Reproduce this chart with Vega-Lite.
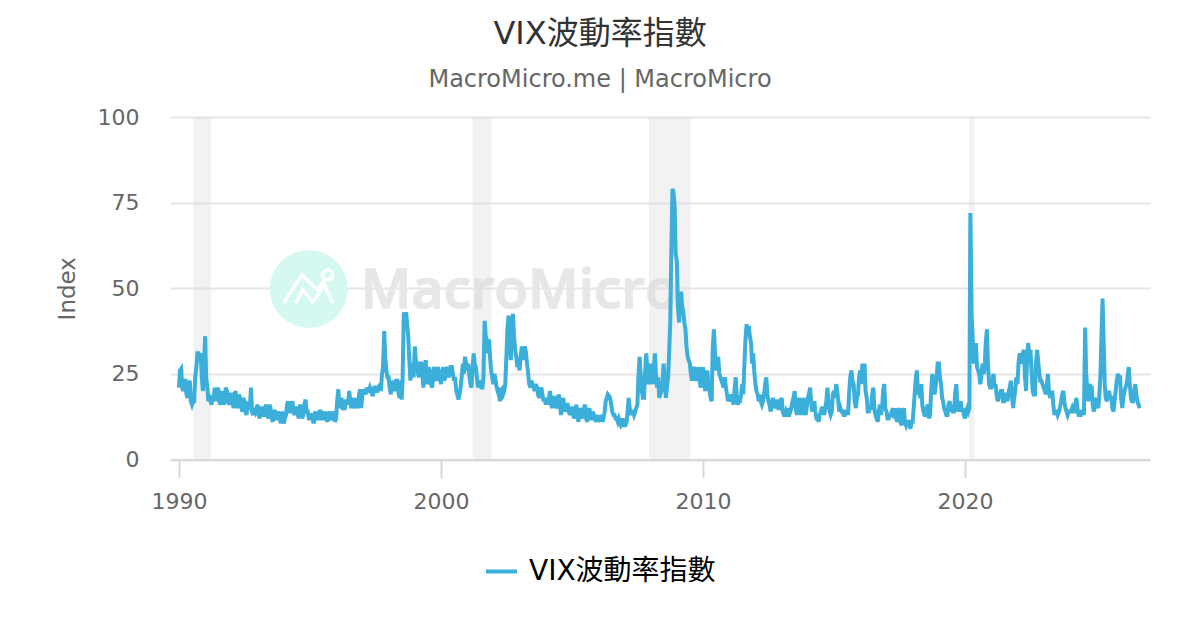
{
  "$schema": "https://vega.github.io/schema/vega-lite/v6.json",
  "width": 980,
  "height": 342.5,
  "autosize": "none",
  "padding": {"left": 170, "top": 117, "right": 50, "bottom": 170},
  "background": "white",
  "title": {
    "text": "VIX波動率指數",
    "subtitle": "MacroMicro.me | MacroMicro",
    "font": "DejaVu Sans, Noto Sans CJK TC",
    "subtitleFont": "DejaVu Sans, Noto Sans CJK TC",
    "fontSize": 32,
    "fontWeight": "normal",
    "color": "#333333",
    "subtitleFontSize": 24,
    "subtitleColor": "#666666",
    "subtitlePadding": 17,
    "anchor": "middle",
    "frame": "group",
    "dx": -60,
    "offset": 13
  },
  "config": {
    "view": {"stroke": null},
    "font": "DejaVu Sans, Noto Sans CJK TC"
  },
  "layer": [
    {
      "data": {"values": [{"name": "logo"}]},
      "mark": {"type": "point", "filled": true, "size": 6084, "color": "#d5f8f1", "opacity": 1},
      "encoding": {
        "x": {"datum": {"year": 1994, "month": 12, "date": 15}, "type": "temporal"},
        "y": {"datum": 49.8, "type": "quantitative"}
      }
    },
    {
      "data": {"values": [{"name": "logo"}]},
      "mark": {
        "type": "point",
        "filled": false,
        "size": 4,
        "stroke": "white",
        "strokeWidth": 3.5,
        "opacity": 1,
        "shape": "M-25 14L-7 -14L9 1L16 -10M24 -14A5 5 0 1 1 14 -14A5 5 0 1 1 24 -14M-13 14L-6 1L4 13L16 -4L24 14"
      },
      "encoding": {
        "x": {"datum": {"year": 1994, "month": 12, "date": 15}, "type": "temporal"},
        "y": {"datum": 49.8, "type": "quantitative"}
      }
    },
    {
      "data": {"values": [{"name": "MacroMicro"}]},
      "mark": {
        "type": "text",
        "align": "left",
        "baseline": "alphabetic",
        "font": "Open Sans",
        "fontWeight": 600,
        "fontSize": 55,
        "color": "#e6e7e7",
        "stroke": "#e6e7e7",
        "strokeWidth": 1.5
      },
      "encoding": {
        "text": {"field": "name"},
        "x": {"datum": {"year": 1996, "month": 12, "date": 10}, "type": "temporal"},
        "y": {"datum": 44.2, "type": "quantitative"}
      }
    },
    {
      "data": {"values": [
        {"start": "1990-07-20", "end": "1991-03-25"},
        {"start": "2001-03-20", "end": "2001-12-01"},
        {"start": "2007-12-10", "end": "2009-07-15"},
        {"start": "2020-02-25", "end": "2020-05-10"}
      ]},
      "mark": {"type": "rect", "color": "#d9d9d9", "opacity": 0.35},
      "encoding": {
        "x": {"field": "start", "type": "temporal"},
        "x2": {"field": "end"}
      }
    },
    {
      "data": {"values": [
        {"d":"1990-01","v":21},{"d":"1990-02","v":26.5},{"d":"1990-03","v":20},{"d":"1990-04","v":23},{"d":"1990-05","v":18},{"d":"1990-06","v":23},{"d":"1990-07","v":16},{"d":"1990-08","v":17},{"d":"1990-09","v":27},{"d":"1990-10","v":31},{"d":"1990-11","v":31},{"d":"1990-12","v":20},
        {"d":"1991-01","v":36},{"d":"1991-02","v":21},{"d":"1991-03","v":19},{"d":"1991-04","v":16},{"d":"1991-05","v":18},{"d":"1991-06","v":17},{"d":"1991-07","v":21},{"d":"1991-08","v":16},{"d":"1991-09","v":18},{"d":"1991-10","v":17},{"d":"1991-11","v":20},{"d":"1991-12","v":16},
        {"d":"1992-01","v":19},{"d":"1992-02","v":15},{"d":"1992-03","v":20},{"d":"1992-04","v":15},{"d":"1992-05","v":18},{"d":"1992-06","v":14},{"d":"1992-07","v":17},{"d":"1992-08","v":13},{"d":"1992-09","v":15},{"d":"1992-10","v":21},{"d":"1992-11","v":13},{"d":"1992-12","v":14},
        {"d":"1993-01","v":16},{"d":"1993-02","v":12},{"d":"1993-03","v":15},{"d":"1993-04","v":13},{"d":"1993-05","v":16},{"d":"1993-06","v":12},{"d":"1993-07","v":15},{"d":"1993-08","v":11},{"d":"1993-09","v":14},{"d":"1993-10","v":12},{"d":"1993-11","v":13},{"d":"1993-12","v":11},
        {"d":"1994-01","v":10.5},{"d":"1994-02","v":13},{"d":"1994-03","v":17},{"d":"1994-04","v":14},{"d":"1994-05","v":17},{"d":"1994-06","v":13},{"d":"1994-07","v":15},{"d":"1994-08","v":12},{"d":"1994-09","v":15},{"d":"1994-10","v":13},{"d":"1994-11","v":17.5},{"d":"1994-12","v":14},
        {"d":"1995-01","v":12},{"d":"1995-02","v":13},{"d":"1995-03","v":11},{"d":"1995-04","v":13},{"d":"1995-05","v":12},{"d":"1995-06","v":14},{"d":"1995-07","v":12},{"d":"1995-08","v":14},{"d":"1995-09","v":11},{"d":"1995-10","v":14},{"d":"1995-11","v":12},{"d":"1995-12","v":14},
        {"d":"1996-01","v":12},{"d":"1996-02","v":20.5},{"d":"1996-03","v":16},{"d":"1996-04","v":15},{"d":"1996-05","v":15},{"d":"1996-06","v":17},{"d":"1996-07","v":20},{"d":"1996-08","v":15},{"d":"1996-09","v":16},{"d":"1996-10","v":18},{"d":"1996-11","v":15},{"d":"1996-12","v":20.5},
        {"d":"1997-01","v":19},{"d":"1997-02","v":20},{"d":"1997-03","v":21},{"d":"1997-04","v":20},{"d":"1997-05","v":20},{"d":"1997-06","v":19},{"d":"1997-07","v":21},{"d":"1997-08","v":20},{"d":"1997-09","v":22},{"d":"1997-10","v":25},{"d":"1997-11","v":37.5},{"d":"1997-12","v":26},
        {"d":"1998-01","v":24},{"d":"1998-02","v":19},{"d":"1998-03","v":22},{"d":"1998-04","v":21},{"d":"1998-05","v":23},{"d":"1998-06","v":18},{"d":"1998-07","v":17.5},{"d":"1998-08","v":43},{"d":"1998-09","v":43},{"d":"1998-10","v":36},{"d":"1998-11","v":23},{"d":"1998-12","v":27},
        {"d":"1999-01","v":33},{"d":"1999-02","v":28},{"d":"1999-03","v":24},{"d":"1999-04","v":28},{"d":"1999-05","v":21},{"d":"1999-06","v":29},{"d":"1999-07","v":22},{"d":"1999-08","v":25},{"d":"1999-09","v":21},{"d":"1999-10","v":27},{"d":"1999-11","v":23},{"d":"1999-12","v":26},
        {"d":"2000-01","v":22},{"d":"2000-02","v":27},{"d":"2000-03","v":24},{"d":"2000-04","v":27},{"d":"2000-05","v":25},{"d":"2000-06","v":27},{"d":"2000-07","v":23},{"d":"2000-08","v":20},{"d":"2000-09","v":17.5},{"d":"2000-10","v":21},{"d":"2000-11","v":28},{"d":"2000-12","v":30},
        {"d":"2001-01","v":27},{"d":"2001-02","v":24},{"d":"2001-03","v":21},{"d":"2001-04","v":31},{"d":"2001-05","v":27},{"d":"2001-06","v":21},{"d":"2001-07","v":22},{"d":"2001-08","v":21},{"d":"2001-09","v":40.5},{"d":"2001-10","v":35},{"d":"2001-11","v":35},{"d":"2001-12","v":26},
        {"d":"2002-01","v":22},{"d":"2002-02","v":23},{"d":"2002-03","v":20},{"d":"2002-04","v":17},{"d":"2002-05","v":20},{"d":"2002-06","v":20},{"d":"2002-07","v":30},{"d":"2002-08","v":42},{"d":"2002-09","v":29},{"d":"2002-10","v":42.5},{"d":"2002-11","v":32},{"d":"2002-12","v":27},
        {"d":"2003-01","v":26},{"d":"2003-02","v":33},{"d":"2003-03","v":32},{"d":"2003-04","v":31},{"d":"2003-05","v":25},{"d":"2003-06","v":21},{"d":"2003-07","v":22},{"d":"2003-08","v":20},{"d":"2003-09","v":21},{"d":"2003-10","v":18},{"d":"2003-11","v":21},{"d":"2003-12","v":17},
        {"d":"2004-01","v":16},{"d":"2004-02","v":16},{"d":"2004-03","v":20},{"d":"2004-04","v":15},{"d":"2004-05","v":18},{"d":"2004-06","v":15},{"d":"2004-07","v":19},{"d":"2004-08","v":13},{"d":"2004-09","v":18},{"d":"2004-10","v":14},{"d":"2004-11","v":16},{"d":"2004-12","v":13},
        {"d":"2005-01","v":15},{"d":"2005-02","v":12},{"d":"2005-03","v":16},{"d":"2005-04","v":11},{"d":"2005-05","v":14},{"d":"2005-06","v":13},{"d":"2005-07","v":16},{"d":"2005-08","v":11},{"d":"2005-09","v":15},{"d":"2005-10","v":12},{"d":"2005-11","v":13},{"d":"2005-12","v":11},
        {"d":"2006-01","v":11},{"d":"2006-02","v":12},{"d":"2006-03","v":11},{"d":"2006-04","v":14},{"d":"2006-05","v":18},{"d":"2006-06","v":18.5},{"d":"2006-07","v":16},{"d":"2006-08","v":13},{"d":"2006-09","v":12},{"d":"2006-10","v":11},{"d":"2006-11","v":11},{"d":"2006-12","v":10.5},
        {"d":"2007-01","v":10},{"d":"2007-02","v":11},{"d":"2007-03","v":18},{"d":"2007-04","v":13},{"d":"2007-05","v":14},{"d":"2007-06","v":14},{"d":"2007-07","v":16},{"d":"2007-08","v":30},{"d":"2007-09","v":20},{"d":"2007-10","v":18},{"d":"2007-11","v":31},{"d":"2007-12","v":22},
        {"d":"2008-01","v":28},{"d":"2008-02","v":22},{"d":"2008-03","v":31},{"d":"2008-04","v":21},{"d":"2008-05","v":18},{"d":"2008-06","v":20},{"d":"2008-07","v":28},{"d":"2008-08","v":18},{"d":"2008-09","v":24},{"d":"2008-10","v":40},{"d":"2008-11","v":79},{"d":"2008-12","v":74},
        {"d":"2009-01","v":58},{"d":"2009-02","v":40},{"d":"2009-03","v":49},{"d":"2009-04","v":43},{"d":"2009-05","v":38},{"d":"2009-06","v":30},{"d":"2009-07","v":28},{"d":"2009-08","v":23},{"d":"2009-09","v":27},{"d":"2009-10","v":23},{"d":"2009-11","v":27},{"d":"2009-12","v":21},
        {"d":"2010-01","v":27},{"d":"2010-02","v":20},{"d":"2010-03","v":26},{"d":"2010-04","v":20},{"d":"2010-05","v":17},{"d":"2010-06","v":38},{"d":"2010-07","v":26},{"d":"2010-08","v":30},{"d":"2010-09","v":24},{"d":"2010-10","v":22},{"d":"2010-11","v":24},{"d":"2010-12","v":19},
        {"d":"2011-01","v":18},{"d":"2011-02","v":17},{"d":"2011-03","v":16},{"d":"2011-04","v":24},{"d":"2011-05","v":16},{"d":"2011-06","v":17},{"d":"2011-07","v":22},{"d":"2011-08","v":28},{"d":"2011-09","v":39.5},{"d":"2011-10","v":39},{"d":"2011-11","v":34},{"d":"2011-12","v":31},
        {"d":"2012-01","v":22},{"d":"2012-02","v":19},{"d":"2012-03","v":19},{"d":"2012-04","v":16},{"d":"2012-05","v":19},{"d":"2012-06","v":24},{"d":"2012-07","v":17},{"d":"2012-08","v":14},{"d":"2012-09","v":18},{"d":"2012-10","v":15},{"d":"2012-11","v":17},{"d":"2012-12","v":15},
        {"d":"2013-01","v":18},{"d":"2013-02","v":13},{"d":"2013-03","v":14},{"d":"2013-04","v":13},{"d":"2013-05","v":14},{"d":"2013-06","v":17},{"d":"2013-07","v":20},{"d":"2013-08","v":13},{"d":"2013-09","v":18},{"d":"2013-10","v":13},{"d":"2013-11","v":18},{"d":"2013-12","v":13},
        {"d":"2014-01","v":18},{"d":"2014-02","v":21},{"d":"2014-03","v":14},{"d":"2014-04","v":17},{"d":"2014-05","v":12},{"d":"2014-06","v":11},{"d":"2014-07","v":14},{"d":"2014-08","v":15},{"d":"2014-09","v":15},{"d":"2014-10","v":21},{"d":"2014-11","v":14},{"d":"2014-12","v":14},
        {"d":"2015-01","v":20},{"d":"2015-02","v":22},{"d":"2015-03","v":17},{"d":"2015-04","v":15},{"d":"2015-05","v":14},{"d":"2015-06","v":13},{"d":"2015-07","v":14},{"d":"2015-08","v":20},{"d":"2015-09","v":26},{"d":"2015-10","v":22},{"d":"2015-11","v":15},{"d":"2015-12","v":19},
        {"d":"2016-01","v":26},{"d":"2016-02","v":28},{"d":"2016-03","v":28},{"d":"2016-04","v":18},{"d":"2016-05","v":14},{"d":"2016-06","v":15},{"d":"2016-07","v":21},{"d":"2016-08","v":13},{"d":"2016-09","v":11},{"d":"2016-10","v":16},{"d":"2016-11","v":15},{"d":"2016-12","v":22},
        {"d":"2017-01","v":14},{"d":"2017-02","v":12},{"d":"2017-03","v":13},{"d":"2017-04","v":15},{"d":"2017-05","v":15},{"d":"2017-06","v":11},{"d":"2017-07","v":15},{"d":"2017-08","v":10},{"d":"2017-09","v":15},{"d":"2017-10","v":10},{"d":"2017-11","v":11},{"d":"2017-12","v":9},
        {"d":"2018-01","v":11},{"d":"2018-02","v":20},{"d":"2018-03","v":26},{"d":"2018-04","v":20},{"d":"2018-05","v":22},{"d":"2018-06","v":14},{"d":"2018-07","v":13},{"d":"2018-08","v":16},{"d":"2018-09","v":13},{"d":"2018-10","v":25},{"d":"2018-11","v":19},{"d":"2018-12","v":24},
        {"d":"2019-01","v":28},{"d":"2019-02","v":22},{"d":"2019-03","v":17},{"d":"2019-04","v":14},{"d":"2019-05","v":13},{"d":"2019-06","v":17},{"d":"2019-07","v":16},{"d":"2019-08","v":14},{"d":"2019-09","v":22},{"d":"2019-10","v":14},{"d":"2019-11","v":17},{"d":"2019-12","v":15},
        {"d":"2020-01","v":12},{"d":"2020-02","v":15},{"d":"2020-03","v":15},{"d":"2020-03-15","v":72},{"d":"2020-04","v":42},{"d":"2020-05","v":28},{"d":"2020-06","v":34},{"d":"2020-07","v":26},{"d":"2020-08","v":22},{"d":"2020-09","v":28},{"d":"2020-10","v":27},{"d":"2020-11","v":38},{"d":"2020-12","v":22},
        {"d":"2021-01","v":21},{"d":"2021-02","v":25},{"d":"2021-03","v":22},{"d":"2021-04","v":17},{"d":"2021-05","v":19},{"d":"2021-06","v":20},{"d":"2021-07","v":17},{"d":"2021-08","v":19},{"d":"2021-09","v":20},{"d":"2021-10","v":23},{"d":"2021-11","v":15},{"d":"2021-12","v":20},
        {"d":"2022-01","v":22},{"d":"2022-02","v":31},{"d":"2022-03","v":28},{"d":"2022-04","v":32},{"d":"2022-05","v":20},{"d":"2022-06","v":34},{"d":"2022-07","v":32},{"d":"2022-08","v":20},{"d":"2022-09","v":19},{"d":"2022-10","v":32},{"d":"2022-11","v":25},{"d":"2022-12","v":23},
        {"d":"2023-01","v":21},{"d":"2023-02","v":19},{"d":"2023-03","v":25},{"d":"2023-04","v":18},{"d":"2023-05","v":20},{"d":"2023-06","v":13},{"d":"2023-07","v":14},{"d":"2023-08","v":14},{"d":"2023-09","v":17},{"d":"2023-10","v":20},{"d":"2023-11","v":15},{"d":"2023-12","v":13},
        {"d":"2024-01","v":14},{"d":"2024-02","v":15},{"d":"2024-03","v":14},{"d":"2024-04","v":18},{"d":"2024-05","v":13},{"d":"2024-06","v":13},{"d":"2024-07","v":14},{"d":"2024-08","v":38.5},{"d":"2024-09","v":20},{"d":"2024-10","v":22},{"d":"2024-11","v":21},{"d":"2024-12","v":14},
        {"d":"2025-01","v":18},{"d":"2025-02","v":15},{"d":"2025-03","v":24},{"d":"2025-04","v":47},{"d":"2025-05","v":22},{"d":"2025-06","v":17},{"d":"2025-07","v":20},{"d":"2025-08","v":18},{"d":"2025-09","v":14},{"d":"2025-10","v":20},{"d":"2025-11","v":25},{"d":"2025-12","v":24},
        {"d":"2026-01","v":15},{"d":"2026-02","v":20},{"d":"2026-03","v":22},{"d":"2026-04","v":27},{"d":"2026-05","v":18},{"d":"2026-06","v":17},{"d":"2026-07","v":22},{"d":"2026-08","v":17},{"d":"2026-09","v":15},
        {"d":"1990-01-15","v":26},{"d":"1990-02-15","v":21},{"d":"1990-03-15","v":23},{"d":"1990-04-15","v":19},{"d":"1990-05-15","v":22},{"d":"1990-06-15","v":17},{"d":"1990-07-15","v":17},{"d":"1990-08-15","v":24},{"d":"1990-09-15","v":31},{"d":"1990-10-15","v":30},{"d":"1990-11-15","v":24},{"d":"1990-12-15","v":27},
        {"d":"1991-01-15","v":24},{"d":"1991-02-15","v":17},{"d":"1991-03-15","v":17},{"d":"1991-04-15","v":18},{"d":"1991-05-15","v":21},{"d":"1991-06-15","v":20},{"d":"1991-07-15","v":17},{"d":"1991-08-15","v":20},{"d":"1991-09-15","v":16},{"d":"1991-10-15","v":21},{"d":"1991-11-15","v":17},{"d":"1991-12-15","v":19},
        {"d":"1992-01-15","v":17},{"d":"1992-02-15","v":19},{"d":"1992-03-15","v":16},{"d":"1992-04-15","v":19},{"d":"1992-05-15","v":16},{"d":"1992-06-15","v":18},{"d":"1992-07-15","v":14},{"d":"1992-08-15","v":17},{"d":"1992-09-15","v":15},{"d":"1992-10-15","v":14},{"d":"1992-11-15","v":15},{"d":"1992-12-15","v":15},
        {"d":"1993-01-15","v":13},{"d":"1993-02-15","v":15},{"d":"1993-03-15","v":13},{"d":"1993-04-15","v":15},{"d":"1993-05-15","v":13},{"d":"1993-06-15","v":16},{"d":"1993-07-15","v":12},{"d":"1993-08-15","v":14},{"d":"1993-09-15","v":12},{"d":"1993-10-15","v":14},{"d":"1993-11-15","v":11},{"d":"1993-12-15","v":14},
        {"d":"1994-01-15","v":12},{"d":"1994-02-15","v":16},{"d":"1994-03-15","v":14},{"d":"1994-04-15","v":16},{"d":"1994-05-15","v":14},{"d":"1994-06-15","v":15},{"d":"1994-07-15","v":13},{"d":"1994-08-15","v":16},{"d":"1994-09-15","v":12},{"d":"1994-10-15","v":16},{"d":"1994-11-15","v":14},{"d":"1994-12-15","v":12},
        {"d":"1995-01-15","v":13},{"d":"1995-02-15","v":11},{"d":"1995-03-15","v":14},{"d":"1995-04-15","v":12},{"d":"1995-05-15","v":14},{"d":"1995-06-15","v":12},{"d":"1995-07-15","v":13},{"d":"1995-08-15","v":12},{"d":"1995-09-15","v":13},{"d":"1995-10-15","v":12},{"d":"1995-11-15","v":13},{"d":"1995-12-15","v":11},
        {"d":"1996-01-15","v":17},{"d":"1996-02-15","v":15},{"d":"1996-03-15","v":18},{"d":"1996-04-15","v":15},{"d":"1996-05-15","v":17},{"d":"1996-06-15","v":16},{"d":"1996-07-15","v":17},{"d":"1996-08-15","v":18},{"d":"1996-09-15","v":15},{"d":"1996-10-15","v":16},{"d":"1996-11-15","v":19},{"d":"1996-12-15","v":15},
        {"d":"1997-01-15","v":20},{"d":"1997-02-15","v":19},{"d":"1997-03-15","v":20},{"d":"1997-04-15","v":21},{"d":"1997-05-15","v":19},{"d":"1997-06-15","v":21},{"d":"1997-07-15","v":20},{"d":"1997-08-15","v":21},{"d":"1997-09-15","v":20},{"d":"1997-10-15","v":27},{"d":"1997-11-15","v":30},{"d":"1997-12-15","v":24},
        {"d":"1998-01-15","v":21},{"d":"1998-02-15","v":23},{"d":"1998-03-15","v":20},{"d":"1998-04-15","v":23},{"d":"1998-05-15","v":20},{"d":"1998-06-15","v":23},{"d":"1998-07-15","v":23},{"d":"1998-08-15","v":38},{"d":"1998-09-15","v":40},{"d":"1998-10-15","v":30},{"d":"1998-11-15","v":28},{"d":"1998-12-15","v":24},
        {"d":"1999-01-15","v":29},{"d":"1999-02-15","v":25},{"d":"1999-03-15","v":28},{"d":"1999-04-15","v":25},{"d":"1999-05-15","v":26},{"d":"1999-06-15","v":24},{"d":"1999-07-15","v":27},{"d":"1999-08-15","v":22},{"d":"1999-09-15","v":26},{"d":"1999-10-15","v":24},{"d":"1999-11-15","v":27},{"d":"1999-12-15","v":24},
        {"d":"2000-01-15","v":25},{"d":"2000-02-15","v":23},{"d":"2000-03-15","v":26},{"d":"2000-04-15","v":24},{"d":"2000-05-15","v":27},{"d":"2000-06-15","v":25},{"d":"2000-07-15","v":24},{"d":"2000-08-15","v":19},{"d":"2000-09-15","v":19},{"d":"2000-10-15","v":24},{"d":"2000-11-15","v":25},{"d":"2000-12-15","v":28},
        {"d":"2001-01-15","v":28},{"d":"2001-02-15","v":22},{"d":"2001-03-15","v":26},{"d":"2001-04-15","v":28},{"d":"2001-05-15","v":24},{"d":"2001-06-15","v":23},{"d":"2001-07-15","v":21},{"d":"2001-08-15","v":24},{"d":"2001-09-15","v":36},{"d":"2001-10-15","v":31},{"d":"2001-11-15","v":30},{"d":"2001-12-15","v":24},
        {"d":"2002-01-15","v":25},{"d":"2002-02-15","v":21},{"d":"2002-03-15","v":21},{"d":"2002-04-15","v":19},{"d":"2002-05-15","v":19},{"d":"2002-06-15","v":22},{"d":"2002-07-15","v":38},{"d":"2002-08-15","v":34},{"d":"2002-09-15","v":37},{"d":"2002-10-15","v":36},{"d":"2002-11-15","v":30},{"d":"2002-12-15","v":28},
        {"d":"2003-01-15","v":30},{"d":"2003-02-15","v":29},{"d":"2003-03-15","v":33},{"d":"2003-04-15","v":28},{"d":"2003-05-15","v":22},{"d":"2003-06-15","v":23},{"d":"2003-07-15","v":21},{"d":"2003-08-15","v":22},{"d":"2003-09-15","v":19},{"d":"2003-10-15","v":20},{"d":"2003-11-15","v":19},{"d":"2003-12-15","v":18},
        {"d":"2004-01-15","v":18},{"d":"2004-02-15","v":18},{"d":"2004-03-15","v":16},{"d":"2004-04-15","v":18},{"d":"2004-05-15","v":16},{"d":"2004-06-15","v":17},{"d":"2004-07-15","v":16},{"d":"2004-08-15","v":16},{"d":"2004-09-15","v":15},{"d":"2004-10-15","v":16},{"d":"2004-11-15","v":14},{"d":"2004-12-15","v":15},
        {"d":"2005-01-15","v":13},{"d":"2005-02-15","v":14},{"d":"2005-03-15","v":13},{"d":"2005-04-15","v":15},{"d":"2005-05-15","v":12},{"d":"2005-06-15","v":15},{"d":"2005-07-15","v":12},{"d":"2005-08-15","v":14},{"d":"2005-09-15","v":12},{"d":"2005-10-15","v":14},{"d":"2005-11-15","v":12},{"d":"2005-12-15","v":13},
        {"d":"2006-01-15","v":12},{"d":"2006-02-15","v":13},{"d":"2006-03-15","v":12},{"d":"2006-04-15","v":17},{"d":"2006-05-15","v":19},{"d":"2006-06-15","v":18},{"d":"2006-07-15","v":14},{"d":"2006-08-15","v":13},{"d":"2006-09-15","v":12},{"d":"2006-10-15","v":12},{"d":"2006-11-15","v":10},{"d":"2006-12-15","v":12},
        {"d":"2007-01-15","v":10},{"d":"2007-02-15","v":14},{"d":"2007-03-15","v":15},{"d":"2007-04-15","v":14},{"d":"2007-05-15","v":13},{"d":"2007-06-15","v":15},{"d":"2007-07-15","v":24},{"d":"2007-08-15","v":25},{"d":"2007-09-15","v":18},{"d":"2007-10-15","v":25},{"d":"2007-11-15","v":27},{"d":"2007-12-15","v":23},
        {"d":"2008-01-15","v":24},{"d":"2008-02-15","v":27},{"d":"2008-03-15","v":25},{"d":"2008-04-15","v":24},{"d":"2008-05-15","v":19},{"d":"2008-06-15","v":23},{"d":"2008-07-15","v":23},{"d":"2008-08-15","v":21},{"d":"2008-09-15","v":31},{"d":"2008-10-15","v":60},{"d":"2008-11-15","v":78},{"d":"2008-12-15","v":60},
        {"d":"2009-01-15","v":45},{"d":"2009-02-15","v":45},{"d":"2009-03-15","v":45},{"d":"2009-04-15","v":40},{"d":"2009-05-15","v":33},{"d":"2009-06-15","v":29},{"d":"2009-07-15","v":25},{"d":"2009-08-15","v":26},{"d":"2009-09-15","v":24},{"d":"2009-10-15","v":25},{"d":"2009-11-15","v":23},{"d":"2009-12-15","v":24},
        {"d":"2010-01-15","v":23},{"d":"2010-02-15","v":23},{"d":"2010-03-15","v":22},{"d":"2010-04-15","v":18},{"d":"2010-05-15","v":32},{"d":"2010-06-15","v":32},{"d":"2010-07-15","v":28},{"d":"2010-08-15","v":25},{"d":"2010-09-15","v":23},{"d":"2010-10-15","v":21},{"d":"2010-11-15","v":21},{"d":"2010-12-15","v":17},
        {"d":"2011-01-15","v":19},{"d":"2011-02-15","v":18},{"d":"2011-03-15","v":20},{"d":"2011-04-15","v":19},{"d":"2011-05-15","v":17},{"d":"2011-06-15","v":19},{"d":"2011-07-15","v":19},{"d":"2011-08-15","v":35},{"d":"2011-09-15","v":36},{"d":"2011-10-15","v":36},{"d":"2011-11-15","v":28},{"d":"2011-12-15","v":26},
        {"d":"2012-01-15","v":20},{"d":"2012-02-15","v":17},{"d":"2012-03-15","v":17},{"d":"2012-04-15","v":17},{"d":"2012-05-15","v":22},{"d":"2012-06-15","v":19},{"d":"2012-07-15","v":16},{"d":"2012-08-15","v":16},{"d":"2012-09-15","v":16},{"d":"2012-10-15","v":17},{"d":"2012-11-15","v":15},{"d":"2012-12-15","v":17},
        {"d":"2013-01-15","v":14},{"d":"2013-02-15","v":13},{"d":"2013-03-15","v":13},{"d":"2013-04-15","v":15},{"d":"2013-05-15","v":15},{"d":"2013-06-15","v":18},{"d":"2013-07-15","v":15},{"d":"2013-08-15","v":15},{"d":"2013-09-15","v":15},{"d":"2013-10-15","v":15},{"d":"2013-11-15","v":14},{"d":"2013-12-15","v":15},
        {"d":"2014-01-15","v":19},{"d":"2014-02-15","v":17},{"d":"2014-03-15","v":15},{"d":"2014-04-15","v":14},{"d":"2014-05-15","v":12},{"d":"2014-06-15","v":13},{"d":"2014-07-15","v":15},{"d":"2014-08-15","v":13},{"d":"2014-09-15","v":17},{"d":"2014-10-15","v":17},{"d":"2014-11-15","v":13},{"d":"2014-12-15","v":19},
        {"d":"2015-01-15","v":18},{"d":"2015-02-15","v":20},{"d":"2015-03-15","v":14},{"d":"2015-04-15","v":14},{"d":"2015-05-15","v":13},{"d":"2015-06-15","v":14},{"d":"2015-07-15","v":13},{"d":"2015-08-15","v":24},{"d":"2015-09-15","v":23},{"d":"2015-10-15","v":17},{"d":"2015-11-15","v":18},{"d":"2015-12-15","v":24},
        {"d":"2016-01-15","v":22},{"d":"2016-02-15","v":24},{"d":"2016-03-15","v":20},{"d":"2016-04-15","v":14},{"d":"2016-05-15","v":15},{"d":"2016-06-15","v":19},{"d":"2016-07-15","v":15},{"d":"2016-08-15","v":12},{"d":"2016-09-15","v":14},{"d":"2016-10-15","v":13},{"d":"2016-11-15","v":20},{"d":"2016-12-15","v":15},
        {"d":"2017-01-15","v":12},{"d":"2017-02-15","v":13},{"d":"2017-03-15","v":14},{"d":"2017-04-15","v":12},{"d":"2017-05-15","v":12},{"d":"2017-06-15","v":14},{"d":"2017-07-15","v":11},{"d":"2017-08-15","v":13},{"d":"2017-09-15","v":11},{"d":"2017-10-15","v":11},{"d":"2017-11-15","v":10},{"d":"2017-12-15","v":11},
        {"d":"2018-01-15","v":15},{"d":"2018-02-15","v":24},{"d":"2018-03-15","v":19},{"d":"2018-04-15","v":18},{"d":"2018-05-15","v":16},{"d":"2018-06-15","v":13},{"d":"2018-07-15","v":15},{"d":"2018-08-15","v":12},{"d":"2018-09-15","v":20},{"d":"2018-10-15","v":22},{"d":"2018-11-15","v":21},{"d":"2018-12-15","v":28},
        {"d":"2019-01-15","v":24},{"d":"2019-02-15","v":18},{"d":"2019-03-15","v":15},{"d":"2019-04-15","v":13},{"d":"2019-05-15","v":16},{"d":"2019-06-15","v":14},{"d":"2019-07-15","v":14},{"d":"2019-08-15","v":19},{"d":"2019-09-15","v":16},{"d":"2019-10-15","v":16},{"d":"2019-11-15","v":14},{"d":"2019-12-15","v":13},
        {"d":"2020-01-15","v":14},{"d":"2020-02-15","v":14},{"d":"2020-04-15","v":36},{"d":"2020-05-15","v":31},{"d":"2020-06-15","v":27},{"d":"2020-07-15","v":25},{"d":"2020-08-15","v":24},{"d":"2020-09-15","v":25},{"d":"2020-10-15","v":34},{"d":"2020-11-15","v":28},{"d":"2020-12-15","v":21},
        {"d":"2021-01-15","v":23},{"d":"2021-02-15","v":21},{"d":"2021-03-15","v":19},{"d":"2021-04-15","v":18},{"d":"2021-05-15","v":20},{"d":"2021-06-15","v":17},{"d":"2021-07-15","v":19},{"d":"2021-08-15","v":17},{"d":"2021-09-15","v":21},{"d":"2021-10-15","v":19},{"d":"2021-11-15","v":18},{"d":"2021-12-15","v":24},
        {"d":"2022-01-15","v":28},{"d":"2022-02-15","v":29},{"d":"2022-03-15","v":31},{"d":"2022-04-15","v":24},{"d":"2022-05-15","v":30},{"d":"2022-06-15","v":28},{"d":"2022-07-15","v":26},{"d":"2022-08-15","v":19},{"d":"2022-09-15","v":28},{"d":"2022-10-15","v":29},{"d":"2022-11-15","v":23},{"d":"2022-12-15","v":22},
        {"d":"2023-01-15","v":20},{"d":"2023-02-15","v":22},{"d":"2023-03-15","v":20},{"d":"2023-04-15","v":19},{"d":"2023-05-15","v":16},{"d":"2023-06-15","v":14},{"d":"2023-07-15","v":13},{"d":"2023-08-15","v":15},{"d":"2023-09-15","v":19},{"d":"2023-10-15","v":17},{"d":"2023-11-15","v":14},{"d":"2023-12-15","v":14},
        {"d":"2024-01-15","v":14},{"d":"2024-02-15","v":14},{"d":"2024-03-15","v":16},{"d":"2024-04-15","v":15},{"d":"2024-05-15","v":13},{"d":"2024-06-15","v":14},{"d":"2024-07-15","v":13},{"d":"2024-08-15","v":25},{"d":"2024-09-15","v":17},{"d":"2024-10-15","v":21},{"d":"2024-11-15","v":16},{"d":"2024-12-15","v":16},
        {"d":"2025-01-15","v":16},{"d":"2025-02-15","v":19},{"d":"2025-03-15","v":35},{"d":"2025-04-15","v":35},{"d":"2025-05-15","v":18},{"d":"2025-06-15","v":19},{"d":"2025-07-15","v":18},{"d":"2025-08-15","v":15},{"d":"2025-09-15","v":17},{"d":"2025-10-15","v":23},{"d":"2025-11-15","v":24},{"d":"2025-12-15","v":18},
        {"d":"2026-01-15","v":18},{"d":"2026-02-15","v":21},{"d":"2026-03-15","v":24},{"d":"2026-04-15","v":22},{"d":"2026-05-15","v":17},{"d":"2026-06-15","v":20},{"d":"2026-07-15","v":19},{"d":"2026-08-15","v":16}
      ]},
      "mark": {"type": "line", "strokeWidth": 4, "interpolate": "linear"},
      "encoding": {
        "x": {
          "field": "d",
          "type": "temporal",
          "scale": {"domain": [{"year": 1989, "month": 8, "date": 29}, {"year": 2027, "month": 1, "date": 22}]},
          "axis": {
            "title": null,
            "values": [{"year": 1990}, {"year": 2000}, {"year": 2010}, {"year": 2020}],
            "format": "%Y",
            "grid": false,
            "domainColor": "#d8d8d8",
            "domainWidth": 2,
            "tickColor": "#d8d8d8",
            "tickWidth": 2,
            "tickSize": 18,
            "labelFontSize": 22,
            "labelColor": "#666666",
            "labelPadding": 14
          }
        },
        "y": {
          "field": "v",
          "type": "quantitative",
          "scale": {"domain": [0, 100], "nice": false},
          "axis": {
            "title": "Index",
            "titleFontSize": 23,
            "titleFontWeight": "normal",
            "titleColor": "#666666",
            "titlePadding": 18,
            "values": [0, 25, 50, 75, 100],
            "grid": true,
            "gridColor": "#e6e6e6",
            "gridWidth": 2,
            "domain": false,
            "ticks": false,
            "labelFontSize": 22,
            "labelColor": "#666666",
            "labelPadding": 31
          }
        },
        "stroke": {
          "datum": "VIX波動率指數",
          "type": "nominal",
          "scale": {"range": ["#3bafda"]},
          "legend": {
            "title": null,
            "orient": "none",
            "legendX": 314,
            "legendY": 437,
            "padding": 0,
            "symbolType": "stroke",
            "symbolSize": 961,
            "symbolStrokeWidth": 4,
            "labelFontSize": 28,
            "labelColor": "#000000",
            "labelLimit": 400,
            "labelOffset": 10
          }
        }
      }
    }
  ]
}
